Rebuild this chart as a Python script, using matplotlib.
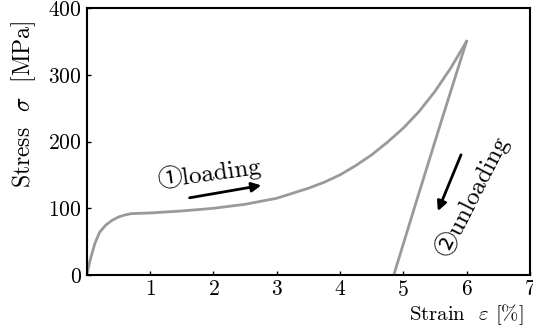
import matplotlib
matplotlib.use("Agg")
import matplotlib.pyplot as plt

plt.rcParams['font.family'] = ['cmr10', 'Noto Sans CJK JP']
plt.rcParams['mathtext.fontset'] = 'cm'
plt.rcParams['axes.formatter.use_mathtext'] = True

# loading branch (strain %, stress MPa)
strain_load = [0, 0.05, 0.125, 0.2, 0.3, 0.4, 0.5, 0.6, 0.7, 1.0, 1.5, 2.0, 2.5, 3.0, 3.5, 3.75, 4.0, 4.25, 4.5, 4.75, 5.0, 5.25, 5.5, 5.75, 6.0]
stress_load = [0, 22, 47, 64, 75, 82, 87, 90, 92, 93, 96, 100, 106, 115, 130, 139, 150, 164, 180, 199, 220, 245, 275, 310, 350]
# unloading branch
strain_unload = [6.0, 5.6, 5.2, 4.85]
stress_unload = [350, 230, 108, 0]

xticks = [1, 2, 3, 4, 5, 6, 7]
yticks = [0, 100, 200, 300, 400]

fig = plt.figure(figsize=(5.33, 3.33), dpi=100)
ax = fig.add_axes([0.163, 0.174, 0.831, 0.802])

ax.plot(strain_load, stress_load, color='#9a9a9a', lw=2)
ax.plot(strain_unload, stress_unload, color='#9a9a9a', lw=2)

ax.set_xlim(0, 7)
ax.set_ylim(0, 400)
ax.set_xticks(xticks)
ax.set_yticks(yticks)
ax.tick_params(direction='in', length=3, labelsize=15.5, width=1)
for s in ax.spines.values():
    s.set_linewidth(1.5)

ax.set_ylabel(r'Stress  $\sigma$  [MPa]', fontsize=17)
ax.set_xlabel(r'Strain  $\varepsilon$ [%]', fontsize=15)
ax.xaxis.set_label_coords(0.856, -0.1)
ax.yaxis.set_label_coords(-0.11, 0.64)

ax.text(1.93, 153, '\u2460loading', fontsize=18, rotation=8, ha='center', va='center')
ax.annotate('', xy=(2.8, 135), xytext=(1.58, 115),
            arrowprops=dict(arrowstyle='-|>', color='black', lw=2, mutation_scale=14))

ax.text(6.08, 118, '\u2461unloading', fontsize=18, rotation=63, ha='center', va='center')
ax.annotate('', xy=(5.53, 92), xytext=(5.93, 184),
            arrowprops=dict(arrowstyle='-|>', color='black', lw=2, mutation_scale=14))

fig.savefig('out.png', dpi=100)
